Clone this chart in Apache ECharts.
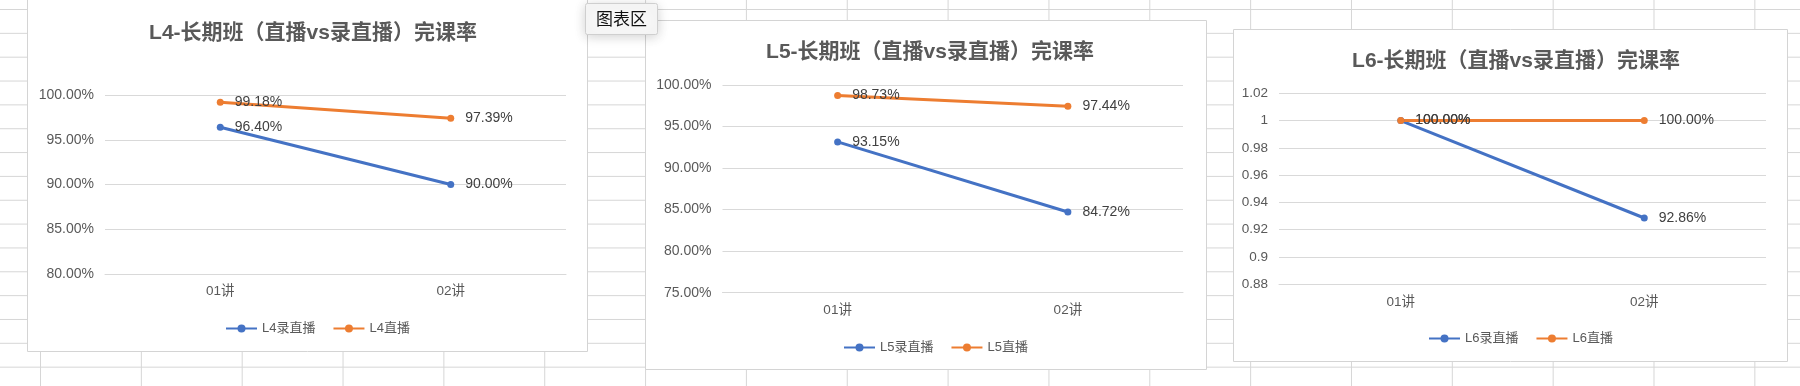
<!DOCTYPE html>
<html>
<head>
<meta charset="utf-8">
<title>完课率</title>
<script src="https://cdn.jsdelivr.net/npm/echarts@6/dist/echarts.min.js"></script>
<style>
    html, body { margin: 0; padding: 0; }
    body {
        width: 1800px;
        height: 386px;
        overflow: hidden;
        background-color: #ffffff;
        background-image:
            linear-gradient(to bottom, #d6d6d6 1px, transparent 1px),
            linear-gradient(to right, #d6d6d6 1px, transparent 1px);
        background-size: 100% 23.85px, 100.85px 100%;
        background-position: 0 9px, 40px 0;
    }
    #main { width: 1800px; height: 386px; }
</style>
</head>
<body>
<div id="main"></div>
<script>
// 课次
var categories = ['01讲', '02讲'];

// L4 完课率
var l4Rec = [0.9640, 0.9000];
var l4Live = [0.9918, 0.9739];
// L5 完课率
var l5Rec = [0.9315, 0.8472];
var l5Live = [0.9873, 0.9744];
// L6 完课率
var l6Rec = [1.0000, 0.9286];
var l6Live = [1.0000, 1.0000];

// y轴刻度 [min, max, interval]
var l4Ticks = [0.80, 1.00, 0.05];
var l5Ticks = [0.75, 1.00, 0.05];
var l6Ticks = [0.88, 1.02, 0.02];

var titles = ['L4-长期班（直播vs录直播）完课率', 'L5-长期班（直播vs录直播）完课率', 'L6-长期班（直播vs录直播）完课率'];
var legendNames = [['L4录直播', 'L4直播'], ['L5录直播', 'L5直播'], ['L6录直播', 'L6直播']];

var FONT = "'Liberation Sans', 'Noto Sans CJK SC', sans-serif";
var BLUE = '#4472C4';
var ORANGE = '#ED7D31';

function pct(v) {
    return (v * 100).toFixed(2) + '%';
}

// 每个图表的位置
var boxes = [
    {x: 27, y: -2, w: 560, h: 353},
    {x: 645, y: 20, w: 561, h: 349},
    {x: 1233, y: 29, w: 554, h: 332}
];
var grids = [
    {left: 105, top: 95, width: 461, height: 179},
    {left: 722.5, top: 85, width: 460.5, height: 207.7},
    {left: 1279, top: 93.3, width: 487, height: 191}
];
var titlePos = [[308, 18], [925, 37], [1511, 46]];
var legendPos = [[220, 317], [838, 336], [1423, 327]];
var ticks = [l4Ticks, l5Ticks, l6Ticks];
var data = [[l4Rec, l4Live], [l5Rec, l5Live], [l6Rec, l6Live]];

var option = {
    animation: false,
    textStyle: {fontFamily: FONT},
    title: [],
    legend: [],
    grid: [],
    xAxis: [],
    yAxis: [],
    series: [],
    graphic: []
};

for (var i = 0; i < 3; i++) {
    var b = boxes[i];
    option.graphic.push({
        type: 'rect',
        z: -10,
        silent: true,
        shape: {x: b.x + 0.5, y: b.y + 0.5, width: b.w, height: b.h},
        style: {fill: '#ffffff', stroke: '#d4d4d4', lineWidth: 1}
    });

    option.title.push({
        text: titles[i],
        left: titlePos[i][0],
        top: titlePos[i][1],
        textAlign: 'center',
        textStyle: {fontFamily: FONT, fontSize: 21, fontWeight: 'bold', color: '#595959'}
    });

    option.legend.push({
        data: legendNames[i],
        left: legendPos[i][0],
        top: legendPos[i][1],
        itemWidth: 31,
        itemHeight: 10,
        itemGap: 17,
        textStyle: {fontFamily: FONT, fontSize: 13, color: '#595959'}
    });

    option.grid.push(grids[i]);

    option.xAxis.push({
        type: 'category',
        gridIndex: i,
        data: categories,
        boundaryGap: true,
        axisLine: {show: true, lineStyle: {color: '#d9d9d9', width: 1}},
        axisTick: {show: false},
        axisLabel: {fontFamily: FONT, fontSize: 13.5, color: '#595959', margin: 11}
    });

    option.yAxis.push({
        type: 'value',
        gridIndex: i,
        min: ticks[i][0],
        max: ticks[i][1],
        interval: ticks[i][2],
        axisLine: {show: false},
        axisTick: {show: false},
        splitLine: {lineStyle: {color: '#d9d9d9', width: 1}},
        axisLabel: {
            fontFamily: FONT,
            fontSize: i == 2 ? 13.5 : 14,
            color: '#595959',
            margin: 11,
            formatter: i == 2 ? function (v) { return String(+v.toFixed(2)); } : pct
        }
    });

    var colors = [BLUE, ORANGE];
    for (var s = 0; s < 2; s++) {
        option.series.push({
            name: legendNames[i][s],
            type: 'line',
            xAxisIndex: i,
            yAxisIndex: i,
            data: data[i][s],
            symbol: 'circle',
            symbolSize: 7,
            color: colors[s],
            lineStyle: {width: 3, color: colors[s]},
            itemStyle: {color: colors[s]},
            label: {
                show: true,
                position: 'right',
                distance: 11,
                fontFamily: FONT,
                fontSize: 14,
                color: '#404040',
                formatter: function (p) { return pct(p.value); }
            }
        });
    }
}

// “图表区” 提示框
option.graphic.push({
    type: 'group',
    z: 100,
    silent: true,
    children: [
        {
            type: 'rect',
            shape: {x: 585.5, y: 3.5, width: 72, height: 31, r: 2},
            style: {fill: '#f7f7f7', stroke: '#cfcfcf', lineWidth: 1,
                shadowBlur: 12, shadowColor: 'rgba(0,0,0,0.18)', shadowOffsetY: 2}
        },
        {
            type: 'text',
            style: {x: 621.5, y: 19, text: '图表区', align: 'center', verticalAlign: 'middle',
                font: "17px 'Noto Sans CJK SC', sans-serif", fill: '#111111'}
        }
    ]
});

echarts.init(document.querySelector('#main')).setOption(option);
</script>
</body>
</html>
